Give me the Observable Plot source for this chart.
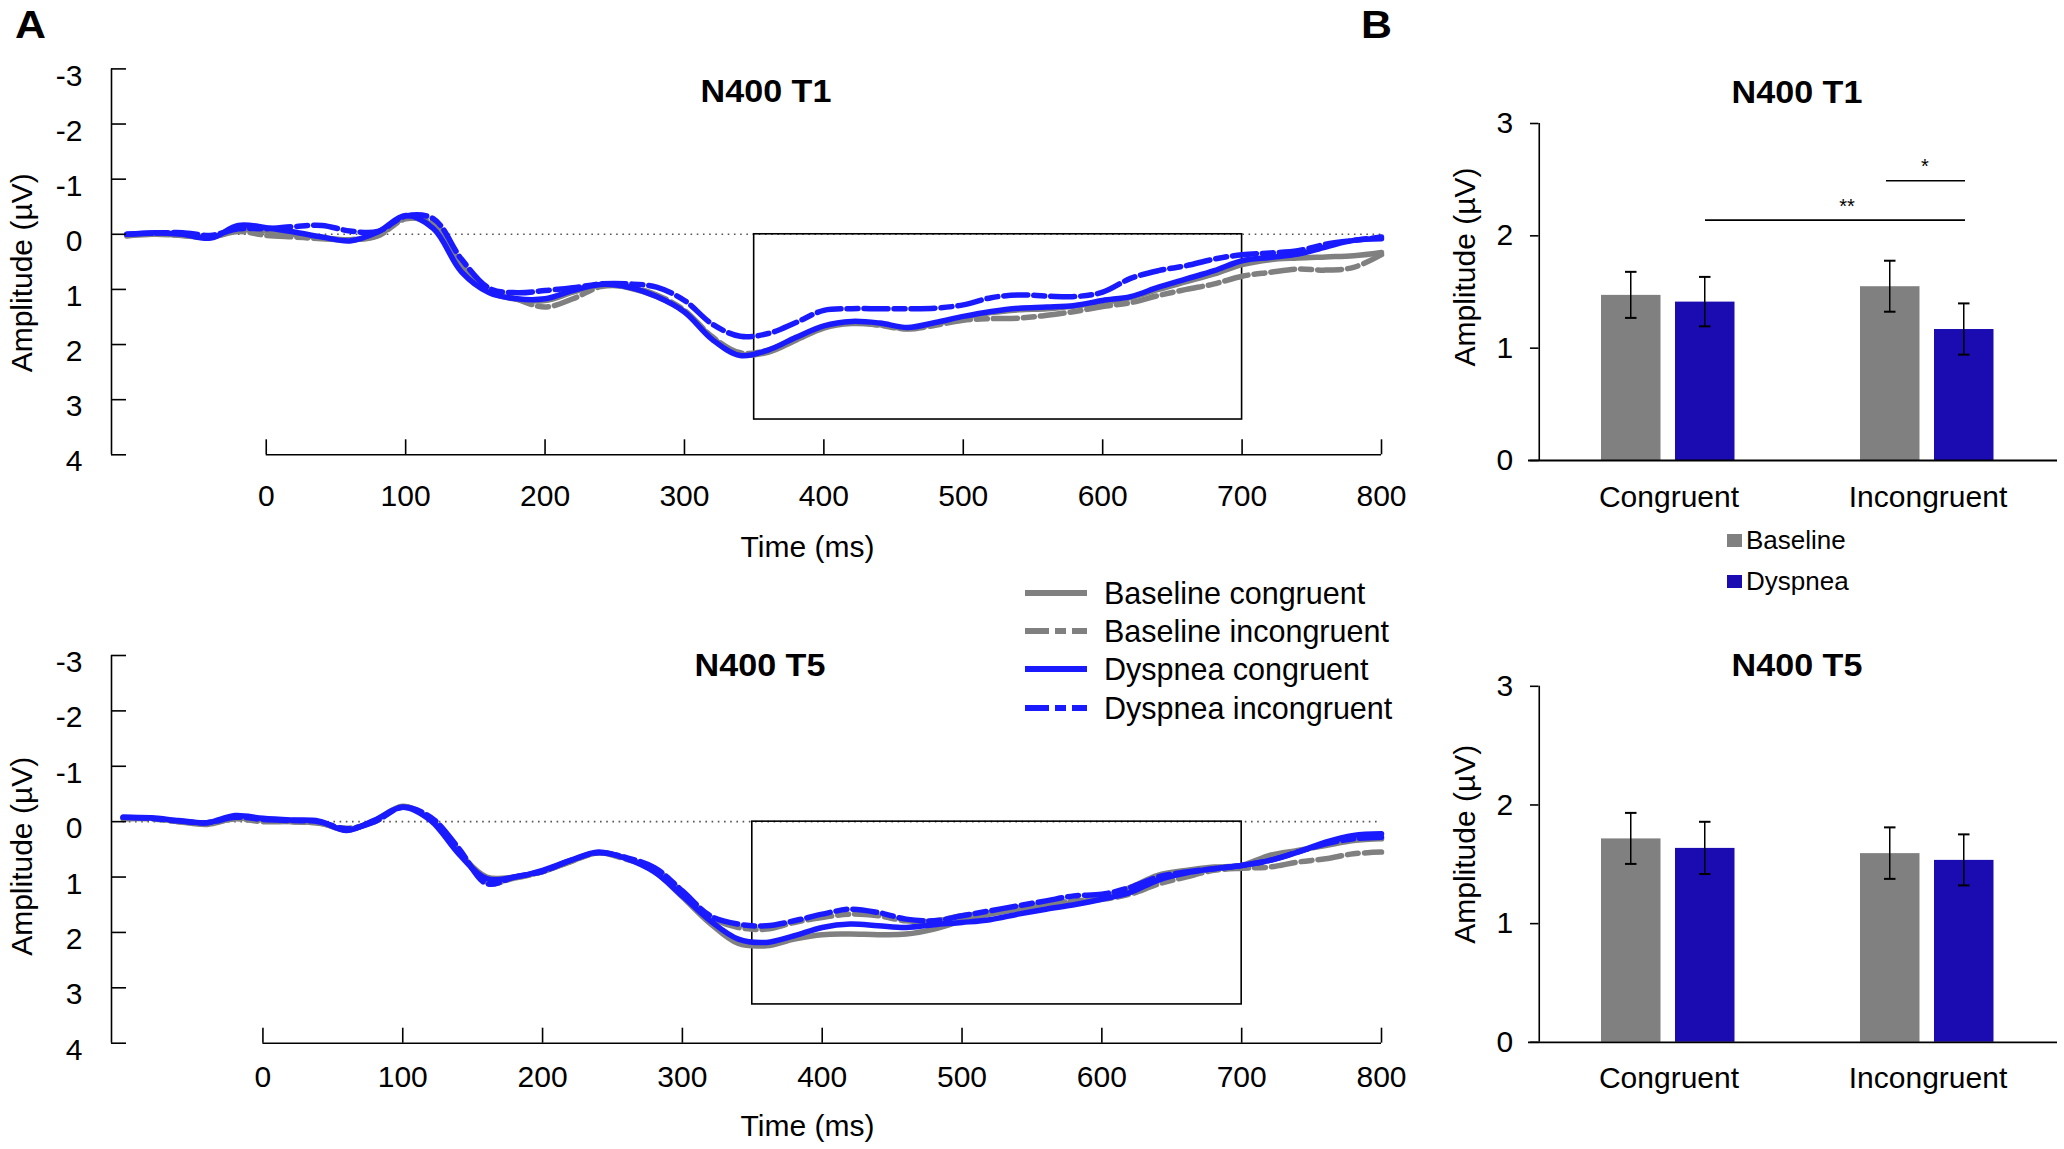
<!DOCTYPE html>
<html><head><meta charset="utf-8">
<script src="https://cdn.jsdelivr.net/npm/d3@7"></script>
<script src="https://cdn.jsdelivr.net/npm/@observablehq/plot@0.6"></script>
<style>
html,body{margin:0;padding:0;background:#fff;}
#fig{position:relative;width:2064px;height:1149px;overflow:hidden;background:#fff;font-family:"Liberation Sans",Arial,Helvetica,sans-serif;color:#000;}
.plot{position:absolute;}
.letter{position:absolute;font-weight:bold;font-size:39px;line-height:1;transform-origin:0 0;transform:scaleX(1.1);}
.title{position:absolute;font-weight:bold;font-size:31px;line-height:1;transform:translate(-50%,-50%) scaleX(1.1);white-space:nowrap;}
.legrow{position:absolute;display:flex;align-items:center;height:30px;white-space:nowrap;}
</style></head><body><div id="fig"></div>
<script>
// ---------------- DATA ----------------
const timesMs = [-100,-80,-60,-40,-20,0,20,40,60,80,100,120,140,160,180,200,220,240,260,280,300,320,340,360,380,400,420,440,460,480,500,520,540,560,580,600,620,640,660,680,700,720,740,760,780,800];

// N400 T1 grand averages (µV), positive plotted downward
const t1BaselineCongruent   = [0.02,0.0,0.02,0.06,-0.08,-0.06,0.0,0.06,0.1,0.02,-0.3,-0.14,0.62,1.05,1.18,1.2,1.05,0.92,0.97,1.13,1.4,1.88,2.18,2.14,1.92,1.7,1.62,1.64,1.71,1.62,1.51,1.42,1.37,1.35,1.3,1.24,1.15,1.0,0.86,0.72,0.55,0.46,0.43,0.41,0.39,0.33];
const t1BaselineIncongruent = [0.03,0.0,0.02,0.05,-0.05,0.02,0.05,0.08,0.1,0.03,-0.28,-0.2,0.55,1.0,1.18,1.32,1.17,0.95,0.95,1.1,1.38,1.86,2.15,2.1,1.88,1.68,1.6,1.65,1.72,1.65,1.56,1.53,1.52,1.47,1.4,1.31,1.24,1.11,1.0,0.9,0.76,0.69,0.63,0.65,0.6,0.37];
const t1DyspneaCongruent    = [0.0,-0.03,0.0,0.07,-0.16,-0.12,-0.04,0.05,0.12,-0.04,-0.34,-0.1,0.68,1.06,1.17,1.17,1.02,0.91,0.96,1.13,1.41,1.91,2.2,2.1,1.87,1.66,1.58,1.61,1.69,1.6,1.49,1.4,1.34,1.32,1.29,1.2,1.13,0.96,0.81,0.66,0.48,0.42,0.36,0.23,0.11,0.08];
const t1DyspneaIncongruent  = [0.0,-0.02,-0.03,0.02,-0.1,-0.1,-0.14,-0.16,-0.06,-0.05,-0.33,-0.28,0.45,0.98,1.06,1.02,0.97,0.9,0.9,0.96,1.2,1.63,1.85,1.8,1.6,1.38,1.35,1.35,1.35,1.34,1.28,1.15,1.1,1.12,1.13,1.05,0.8,0.66,0.57,0.45,0.37,0.34,0.3,0.18,0.11,0.05];

// N400 T5 grand averages (µV)
const t5BaselineCongruent   = [-0.05,-0.06,0.0,0.05,-0.06,-0.04,0.0,0.02,0.15,-0.02,-0.28,-0.04,0.55,1.0,1.0,0.9,0.72,0.56,0.66,0.9,1.36,1.84,2.2,2.24,2.12,2.04,2.03,2.04,2.03,1.94,1.79,1.67,1.58,1.52,1.46,1.37,1.19,0.97,0.88,0.82,0.79,0.61,0.52,0.43,0.34,0.31];
const t5BaselineIncongruent = [-0.06,-0.05,0.0,0.03,-0.05,0.0,0.0,0.03,0.12,0.0,-0.27,-0.05,0.5,1.1,1.02,0.9,0.72,0.56,0.68,0.85,1.28,1.72,1.91,1.94,1.82,1.73,1.67,1.7,1.79,1.79,1.7,1.64,1.55,1.49,1.43,1.4,1.31,1.13,1.0,0.88,0.84,0.82,0.73,0.67,0.58,0.55];
const t5DyspneaCongruent    = [-0.08,-0.07,-0.02,0.02,-0.11,-0.06,-0.03,-0.01,0.16,-0.03,-0.26,-0.02,0.58,1.03,1.0,0.88,0.7,0.55,0.67,0.91,1.34,1.79,2.12,2.18,2.06,1.91,1.85,1.88,1.91,1.86,1.82,1.77,1.67,1.58,1.5,1.4,1.28,1.06,0.93,0.85,0.79,0.7,0.55,0.37,0.25,0.22];
const t5DyspneaIncongruent  = [-0.08,-0.06,-0.01,0.02,-0.08,-0.04,-0.02,0.0,0.13,0.0,-0.26,-0.08,0.48,1.12,1.0,0.9,0.7,0.56,0.65,0.83,1.25,1.7,1.85,1.88,1.79,1.67,1.58,1.64,1.76,1.79,1.7,1.61,1.52,1.43,1.34,1.31,1.19,1.0,0.91,0.85,0.79,0.7,0.55,0.4,0.31,0.28];

const seriesNames = ["Baseline congruent","Baseline incongruent","Dyspnea congruent","Dyspnea incongruent"];
const erpYTicks = [-3,-2,-1,0,1,2,3,4];
const erpXTicks = [0,100,200,300,400,500,600,700,800];
const analysisWindowMs = [350,700];
const windowDepthT1 = 3.36;
const windowDepthT5 = 3.3;

// Bar charts: mean N400 amplitude in the 350-700 ms window
const conditions = ["Congruent","Incongruent"];
const sessions = ["Baseline","Dyspnea"];
const barT1Baseline = [1.47, 1.547];
const barT1Dyspnea  = [1.41, 1.166];
const seT1Baseline  = [0.205, 0.227];
const seT1Dyspnea   = [0.22, 0.228];
const barT5Baseline = [1.714, 1.59];
const barT5Dyspnea  = [1.634, 1.533];
const seT5Baseline  = [0.215, 0.217];
const seT5Dyspnea   = [0.22, 0.215];
const barYTicks = [0,1,2,3];
const sigLabels = ["**","*"];
const sigLevels = [2.14, 2.49];

// ---------------- STYLE ----------------
const FONT = '"Liberation Sans", Arial, Helvetica, sans-serif';
const GRAY = "#808080", BLUE = "#1a1aff", BARBLUE = "#1a0cb0";
const seriesStroke = {"Baseline congruent": GRAY, "Baseline incongruent": GRAY, "Dyspnea congruent": BLUE, "Dyspnea incongruent": BLUE};
const seriesDash = {"Baseline congruent": null, "Baseline incongruent": "24,6,11,6", "Dyspnea congruent": null, "Dyspnea incongruent": "24,6,11,6"};
const sessionFill = {Baseline: GRAY, Dyspnea: BARBLUE};

const fig = document.getElementById("fig");
function place(node, left, top) {
  node.classList.add("plot");
  node.style.left = left + "px";
  node.style.top = top + "px";
  fig.appendChild(node);
}
function addDiv(cls, html, css) {
  const d = document.createElement("div");
  d.className = cls; d.innerHTML = html;
  Object.assign(d.style, css);
  fig.appendChild(d);
  return d;
}

const ERP_W = 1400, ERP_ML = 111, ERP_MR = 19;
function erpChart(arrays, o) {
  const rows = seriesNames.flatMap((s, k) => timesMs.map((t, i) => ({t, v: arrays[k][i], series: s})));
  const yDom = [erpYTicks[erpYTicks.length - 1], erpYTicks[0]];
  const pxPerMs = (ERP_W - ERP_ML - ERP_MR) / (800 - o.xStart);
  const pxPerUv = (o.height - o.marginTop - o.marginBottom) / (yDom[0] - yDom[1]);
  const box = {start: analysisWindowMs[0], end: analysisWindowMs[1], top: 0, bottom: o.depth};
  return Plot.plot({
    width: ERP_W, height: o.height,
    marginLeft: ERP_ML, marginRight: ERP_MR, marginTop: o.marginTop, marginBottom: o.marginBottom,
    x: {domain: [o.xStart, 800], axis: null},
    y: {domain: yDom, axis: null},
    style: {fontFamily: FONT, fontSize: "30px", color: "#000", background: "transparent", overflow: "visible"},
    marks: [
      Plot.ruleY([0], {x1: timesMs[0], x2: timesMs[timesMs.length - 1], stroke: "#555", strokeWidth: 1.6, strokeDasharray: "1.6,4.6"}),
      Plot.rect([box], {x1: "start", x2: "end", y1: "top", y2: "bottom", fill: "none", stroke: "#000", strokeWidth: 1.6}),
      ...seriesNames.map(s => Plot.line(rows.filter(r => r.series === s), {
        x: "t", y: "v", curve: "catmull-rom", stroke: seriesStroke[s], strokeWidth: 5.5,
        strokeDasharray: seriesDash[s] || undefined, strokeLinejoin: "round"
      })),
      // y axis line, inward ticks, labels
      Plot.ruleX([o.xStart], {y1: erpYTicks[0], y2: erpYTicks[erpYTicks.length - 1], stroke: "#000", strokeWidth: 1.6}),
      Plot.ruleY(erpYTicks, {y: d => d, x1: o.xStart, x2: o.xStart + 15 / pxPerMs, stroke: "#000", strokeWidth: 1.6}),
      Plot.text(erpYTicks, {x: o.xStart, y: d => d, text: d => String(d), dx: -29, dy: 7, textAnchor: "end", fontSize: 30}),
      // x axis line, upward ticks, labels
      Plot.ruleY([yDom[0]], {x1: erpXTicks[0], x2: erpXTicks[erpXTicks.length - 1], stroke: "#000", strokeWidth: 1.6}),
      Plot.ruleX(erpXTicks, {x: d => d, y1: yDom[0], y2: yDom[0] - 15 / pxPerUv, stroke: "#000", strokeWidth: 1.6}),
      Plot.text(erpXTicks, {x: d => d, y: yDom[0], text: d => String(d), dy: o.tickPad, fontSize: 30}),
      Plot.text(["Amplitude (µV)"], {frameAnchor: "left", textAnchor: "middle", rotate: -90, dx: -89, dy: o.ampDy, fontSize: 30}),
      Plot.text(["Time (ms)"], {frameAnchor: "bottom", textAnchor: "middle", dx: 61, dy: o.timeDy, fontSize: 30})
    ]
  });
}

const BAR_W = 634, BAR_ML = 108, BAR_MR = 7;
function barChart(means, ses, o) {
  const BAND = (BAR_W - BAR_ML - BAR_MR) / conditions.length;
  const pxPerUv = (o.height - o.marginTop - o.marginBottom) / 3;
  const rows = sessions.flatMap((s, j) => conditions.map((c, i) => ({condition: c, session: s, value: means[j][i], se: ses[j][i]})));
  const inset = {Baseline: [62, BAND - 122], Dyspnea: [136, BAND - 196]};
  const errInset = {Baseline: [91, BAND - 93], Dyspnea: [165, BAND - 167]};
  const capInset = {Baseline: [86, BAND - 98], Dyspnea: [160, BAND - 172]};
  const half = 1 / pxPerUv;
  const marks = [];
  for (const s of sessions) {
    const r = rows.filter(d => d.session === s);
    marks.push(Plot.barY(r, {x: "condition", y: "value", fill: sessionFill[s], insetLeft: inset[s][0], insetRight: inset[s][1]}));
    marks.push(Plot.barY(r, {x: "condition", y1: d => d.value - d.se, y2: d => d.value + d.se, fill: "#000", insetLeft: errInset[s][0], insetRight: errInset[s][1]}));
    marks.push(Plot.barY(r, {x: "condition", y1: d => d.value - d.se - half, y2: d => d.value - d.se + half, fill: "#000", insetLeft: capInset[s][0], insetRight: capInset[s][1]}));
    marks.push(Plot.barY(r, {x: "condition", y1: d => d.value + d.se - half, y2: d => d.value + d.se + half, fill: "#000", insetLeft: capInset[s][0], insetRight: capInset[s][1]}));
  }
  if (o.sig) {
    const sig = [
      {label: sigLabels[0], y: sigLevels[0], from: conditions[0], to: conditions[1], il: 166, ir: 92, tdx: -81},
      {label: sigLabels[1], y: sigLevels[1], from: conditions[1], to: conditions[1], il: 88, ir: 92, tdx: -3}
    ];
    for (const g of sig) {
      marks.push(Plot.ruleY([g], {y: "y", x1: "from", x2: "to", insetLeft: g.il, insetRight: g.ir, stroke: "#000", strokeWidth: 1.6}));
      marks.push(Plot.text([g], {x: "to", y: d => d.y + 14 / pxPerUv, text: "label", dx: g.tdx, fontSize: 20}));
    }
  }
  return Plot.plot({
    width: BAR_W, height: o.height,
    marginLeft: BAR_ML, marginRight: BAR_MR, marginTop: o.marginTop, marginBottom: o.marginBottom,
    x: {domain: conditions, padding: 0, axis: null},
    y: {domain: [0, 3], axis: null},
    style: {fontFamily: FONT, fontSize: "30px", color: "#000", background: "transparent", overflow: "visible"},
    marks: [
      ...marks,
      // y axis line, outward ticks, labels
      Plot.ruleX([conditions[0]], {y1: 0, y2: 3, dx: -BAND / 2, stroke: "#000", strokeWidth: 1.6}),
      Plot.ruleY(barYTicks, {y: d => d, x1: () => conditions[0], x2: () => conditions[0], insetLeft: -9, insetRight: BAND, stroke: "#000", strokeWidth: 1.6}),
      Plot.text(barYTicks, {x: () => conditions[0], y: d => d, text: d => String(d), dx: -BAND / 2 - 26, textAnchor: "end", fontSize: 30}),
      // x axis line and category labels
      Plot.ruleY([0], {insetLeft: -10, stroke: "#000", strokeWidth: 1.8}),
      Plot.text(conditions, {x: d => d, y: 0, text: d => d, dy: o.tickPad, fontSize: 30}),
      Plot.text(["Amplitude (µV)"], {frameAnchor: "left", textAnchor: "middle", rotate: -90, dx: -73, dy: o.ampDy, fontSize: 30})
    ]
  });
}

// ---------------- PANELS ----------------
place(erpChart([t1BaselineCongruent, t1BaselineIncongruent, t1DyspneaCongruent, t1DyspneaIncongruent],
  {xStart: -111, height: 520, marginTop: 28.4, marginBottom: 105.7, depth: windowDepthT1, tickPad: 42, ampDy: 11, timeDy: 102}), 0, 40);
place(erpChart([t5BaselineCongruent, t5BaselineIncongruent, t5DyspneaCongruent, t5DyspneaIncongruent],
  {xStart: -108.3, height: 549, marginTop: 55, marginBottom: 106.3, depth: windowDepthT5, tickPad: 34, ampDy: 7, timeDy: 93}), 0, 600);
place(barChart([barT1Baseline, barT1Dyspnea], [seT1Baseline, seT1Dyspnea],
  {height: 460, marginTop: 40, marginBottom: 83, tickPad: 37, ampDy: -25, sig: true}), 1430, 83);
place(barChart([barT5Baseline, barT5Dyspnea], [seT5Baseline, seT5Dyspnea],
  {height: 509, marginTop: 45.8, marginBottom: 107.2, tickPad: 36, ampDy: -20, sig: false}), 1430, 640);

// ---------------- TEXT & LEGENDS ----------------
addDiv("letter", "A", {left: "15px", top: "5px"});
addDiv("letter", "B", {left: "1361px", top: "5px"});
addDiv("title", "N400 T1", {left: "766px", top: "91px"});
addDiv("title", "N400 T5", {left: "760px", top: "665px"});
addDiv("title", "N400 T1", {left: "1797px", top: "92px"});
addDiv("title", "N400 T5", {left: "1797px", top: "665px"});

const legendCenters = [593, 631, 669, 708];
seriesNames.forEach((s, k) => {
  const dash = seriesDash[s] ? `stroke-dasharray="${seriesDash[s]}"` : "";
  addDiv("legrow",
    `<svg width="62" height="10" style="display:block"><line x1="0" y1="5" x2="62" y2="5" stroke="${seriesStroke[s]}" stroke-width="6" ${dash}/></svg>` +
    `<span style="margin-left:17px;font-size:30.5px;">${s}</span>`,
    {left: "1025px", top: (legendCenters[k] - 15) + "px"});
});
const barLegendCenters = [540, 581];
sessions.forEach((s, k) => {
  addDiv("legrow",
    `<div style="width:15px;height:13px;background:${sessionFill[s]};"></div>` +
    `<span style="margin-left:4px;font-size:26px;">${s}</span>`,
    {left: "1727px", top: (barLegendCenters[k] - 15) + "px"});
});
</script></body></html>
